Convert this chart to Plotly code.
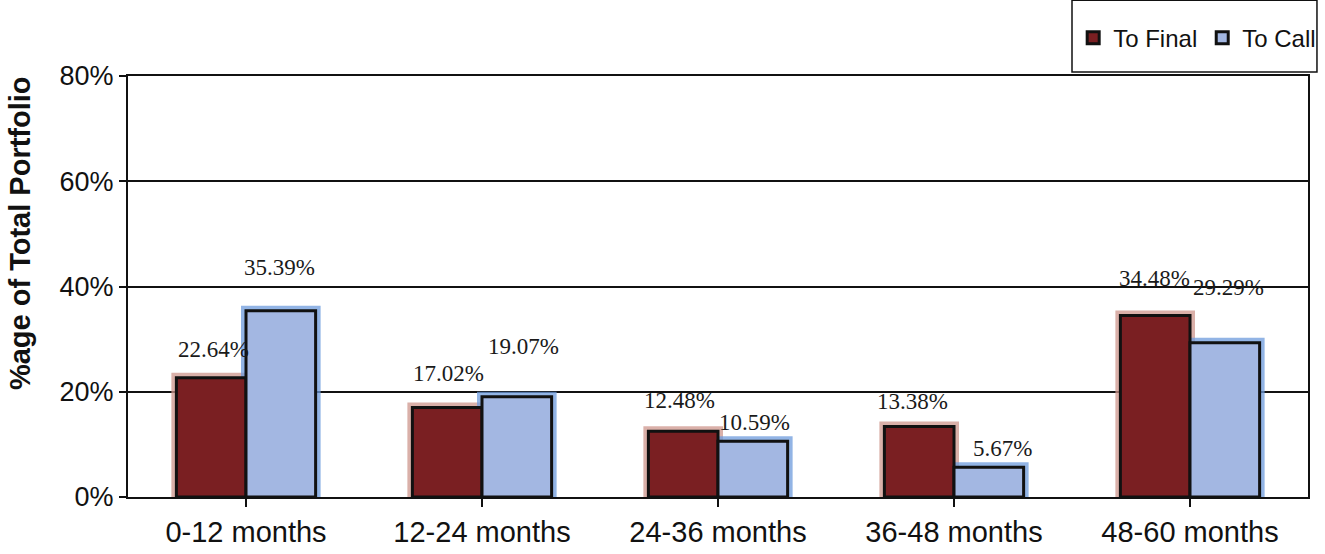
import plotly.graph_objects as go

# Portfolio share by maturity bucket
categories = ["0-12 months", "12-24 months", "24-36 months", "36-48 months", "48-60 months"]
to_final = [22.64, 17.02, 12.48, 13.38, 34.48]
to_call = [35.39, 19.07, 10.59, 5.67, 29.29]
y_ticks = [0, 20, 40, 60, 80]
y_tick_text = ["0%", "20%", "40%", "60%", "80%"]

# styling
MAROON = "#7a1f22"
MAROON_HALO = "rgba(205,150,140,0.75)"
BLUE = "#a3b7e2"
BLUE_HALO = "rgba(110,155,220,0.75)"
BAR_W = 0.295
idx = list(range(len(categories)))

# label nudges in pixels (dx, dy above the bar top)
final_nudge = [(2, 28), (1, 34), (-4, 31), (-7, 25), (-1, 37)]
call_nudge = [(-1, 43), (7, 50), (2, 19), (14, 19), (4, 55)]

fig = go.Figure()

# soft halo behind each bar
fig.add_trace(go.Bar(x=idx, y=to_final, width=BAR_W, offset=-BAR_W,
                     marker=dict(color=MAROON_HALO, line=dict(color=MAROON_HALO, width=10)),
                     showlegend=False, hoverinfo="skip"))
fig.add_trace(go.Bar(x=idx, y=to_call, width=BAR_W, offset=0,
                     marker=dict(color=BLUE_HALO, line=dict(color=BLUE_HALO, width=10)),
                     showlegend=False, hoverinfo="skip"))

fig.add_trace(go.Bar(x=idx, y=to_final, width=BAR_W, offset=-BAR_W, name="To Final",
                     marker=dict(color=MAROON, line=dict(color="#111111", width=3))))
fig.add_trace(go.Bar(x=idx, y=to_call, width=BAR_W, offset=0, name="To Call",
                     marker=dict(color=BLUE, line=dict(color="#111111", width=3))))

label_font = dict(family="Liberation Serif, Times New Roman, serif", size=23, color="#1a1a1a")
for i, v in enumerate(to_final):
    dx, dy = final_nudge[i]
    fig.add_annotation(x=i - BAR_W / 2, y=v, text=f"{v:.2f}%", showarrow=False,
                       xshift=dx, yshift=dy, font=label_font, yanchor="middle")
for i, v in enumerate(to_call):
    dx, dy = call_nudge[i]
    fig.add_annotation(x=i + BAR_W / 2, y=v, text=f"{v:.2f}%", showarrow=False,
                       xshift=dx, yshift=dy, font=label_font, yanchor="middle")

# y-axis title, set a little above the plot's midpoint
fig.add_annotation(xref="paper", yref="paper", x=-0.0915, y=0.627,
                   text="<b>%age of Total Portfolio</b>", textangle=-90, showarrow=False,
                   font=dict(size=29, color="#111111"), xanchor="center", yanchor="middle")

# legend frame
fig.add_shape(type="rect", xref="paper", yref="paper",
              x0=0.80, x1=1.0076, y0=1.0095, y1=1.18,
              line=dict(color="#111111", width=1.5), fillcolor="white", layer="below")

fig.update_layout(
    width=1325, height=554,
    margin=dict(l=128, r=17, t=76, b=57, autoexpand=False),
    paper_bgcolor="white", plot_bgcolor="white",
    barmode="overlay",
    font=dict(family="Liberation Sans, Arial, sans-serif", color="#111111"),
    legend=dict(orientation="h", x=0.801, xanchor="left", y=1.09, yanchor="middle",
                font=dict(size=24, color="#111111"), bgcolor="rgba(0,0,0,0)",
                itemwidth=30, traceorder="normal"),
    xaxis=dict(
        tickmode="array", tickvals=idx, ticktext=categories,
        range=[-0.5, len(categories) - 0.5],
        tickfont=dict(size=29), ticks="outside", ticklen=8, tickwidth=1.5,
        tickcolor="#111111", showline=True, linecolor="#111111", linewidth=2,
        mirror=True, showgrid=False, zeroline=False,
    ),
    yaxis=dict(
        range=[0, 80], tickvals=y_ticks, ticktext=y_tick_text,
        tickfont=dict(size=27), ticks="outside", ticklen=7, tickwidth=1.5,
        tickcolor="#111111", showline=True, linecolor="#111111", linewidth=2,
        mirror=True, showgrid=True, gridcolor="#111111", gridwidth=1.5,
        zeroline=False,
    ),
)

fig.write_html("out.html")
